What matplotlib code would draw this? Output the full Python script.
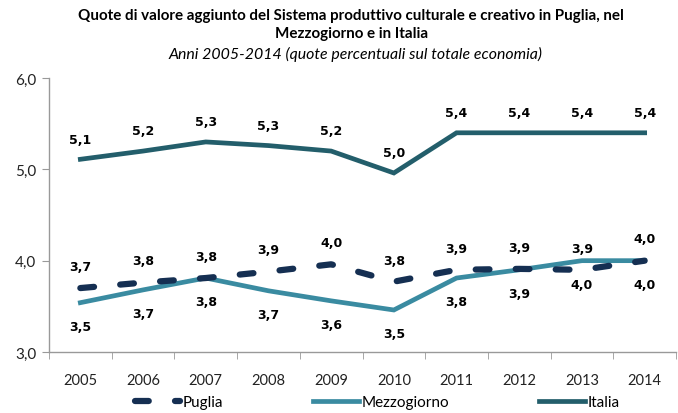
import matplotlib.pyplot as plt
from matplotlib.lines import Line2D

years = ["2005", "2006", "2007", "2008", "2009", "2010", "2011", "2012", "2013", "2014"]
puglia = [3.70, 3.76, 3.81, 3.88, 3.96, 3.77, 3.90, 3.91, 3.90, 4.00]
mezzogiorno = [3.54, 3.68, 3.81, 3.67, 3.56, 3.46, 3.81, 3.90, 4.00, 4.00]
italia = [5.11, 5.20, 5.30, 5.26, 5.20, 4.96, 5.40, 5.40, 5.40, 5.40]

c_puglia = "#152F52"
c_mezz = "#3A8BA1"
c_italia = "#235E6B"
dash = (2.2, 4.2)


def fmt(v):
    return f"{v:.1f}".replace(".", ",")


fig = plt.figure(figsize=(6.78, 4.14), dpi=100)
ax = fig.add_axes([49 / 678, 61 / 414, 627 / 678, 274 / 414])
x = list(range(len(years)))

ax.plot(x, italia, color=c_italia, lw=3.4, solid_joinstyle="miter")
ax.plot(x, mezzogiorno, color=c_mezz, lw=3.4, solid_joinstyle="miter")
ax.plot(x, puglia, color=c_puglia, lw=4.5, dashes=dash, dash_capstyle="round")

lab = dict(ha="center", va="center", fontsize=9, fontweight="bold", family="DejaVu Sans", color="black")
for i in x:
    ax.annotate(fmt(italia[i]), (i, italia[i]), xytext=(0, 14.5), textcoords="offset points", **lab)
    ax.annotate(fmt(puglia[i]), (i, puglia[i]), xytext=(0, 15.6), textcoords="offset points", **lab)
    ax.annotate(fmt(mezzogiorno[i]), (i, mezzogiorno[i]), xytext=(0, -17), textcoords="offset points", **lab)

ax.set_xlim(-0.5, len(years) - 0.5)
ax.set_ylim(3.0, 6.0)
ax.set_yticks([3.0, 4.0, 5.0, 6.0])
ax.set_yticklabels([fmt(v) for v in [3.0, 4.0, 5.0, 6.0]], fontsize=11, family="Lato", color="#222222")
ax.set_xticks(x)
ax.set_xticklabels(years, fontsize=10.5, family="Lato", color="#222222")
ax.set_xticks([i - 0.5 for i in range(len(years) + 1)], minor=True)
ax.tick_params(axis="x", which="major", length=0, pad=15)
ax.tick_params(axis="x", which="minor", length=5, color="#999999")
ax.tick_params(axis="y", length=5, color="#999999", pad=4)
for s in ["top", "right"]:
    ax.spines[s].set_visible(False)
for s in ["left", "bottom"]:
    ax.spines[s].set_color("#999999")
    ax.spines[s].set_linewidth(1)

fig.text(0.518, 1 - 25 / 414, "Quote di valore aggiunto del Sistema produttivo culturale e creativo in Puglia, nel\nMezzogiorno e in Italia",
         ha="center", va="center", fontsize=10.9, fontweight="bold", family="Lato", linespacing=1.3)
fig.text(0.524, 1 - 54 / 414, "Anni 2005-2014 (quote percentuali sul totale economia)",
         ha="center", va="center", fontsize=11.4, style="italic", family="Lato")

handles = [
    Line2D([], [], color=c_puglia, lw=4.5, dashes=dash, dash_capstyle="round"),
    Line2D([], [], color=c_mezz, lw=3.4),
    Line2D([], [], color=c_italia, lw=3.4),
]
fig.legend(handles, ["Puglia", "Mezzogiorno", "Italia"], loc="center", bbox_to_anchor=(377 / 678, 1 - 403 / 414),
           ncol=3, frameon=False, prop={"family": "Lato", "size": 11}, handlelength=3.0,
           handletextpad=0.15, columnspacing=5.9, borderpad=0)

fig.savefig("out.png", dpi=100)
